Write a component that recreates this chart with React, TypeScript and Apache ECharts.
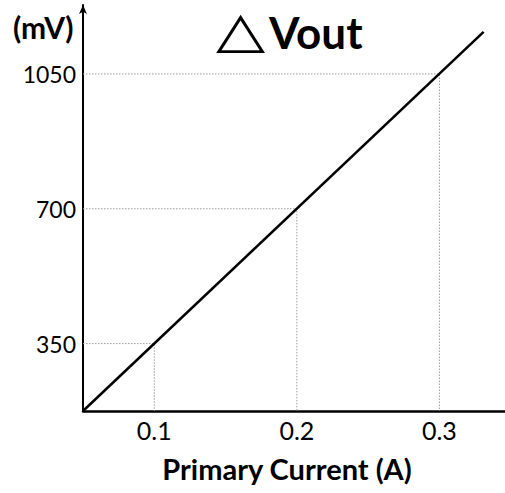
import React, { useEffect, useRef } from "react";
import * as echarts from "echarts";

const xTicks = [0.1, 0.2, 0.3];
const yTicks = [350, 700, 1050];
const lineX = [0.05, 0.331];
const lineY = [175, 1159];
const xRange = [0.05, 0.346];
const yRange = [175, 1229];

const FONT = "Lato, 'Open Sans', sans-serif";

export default function App() {
  const ref = useRef<HTMLDivElement>(null);
  useEffect(() => {
    if (!ref.current) return;
    const chart = echarts.init(ref.current, null, { renderer: "svg" });
    const guideSeries = xTicks.map((xv, i) => ({
      type: "line",
      data: [
        [xRange[0], yTicks[i]],
        [xv, yTicks[i]],
        [xv, yRange[0]],
      ],
      symbol: "none",
      silent: true,
      lineStyle: { color: "#9a9a9a", width: 1, type: [1.5, 1.5] },
      z: 1,
    }));
    chart.setOption({
      animation: false,
      backgroundColor: "#ffffff",
      grid: { left: 83, right: 0, top: 5, bottom: 82, outerBoundsMode: "none", containLabel: false },
      xAxis: {
        type: "value",
        min: xRange[0],
        max: xRange[1],
        name: "Primary Current (A)",
        nameLocation: "middle",
        nameGap: 43,
        nameTextStyle: {
          fontFamily: FONT,
          fontSize: 29,
          fontWeight: "bold",
          color: "#000",
          padding: [0, 14, 0, 0],
        },
        axisLine: { show: true, onZero: false, lineStyle: { color: "#000", width: 2.5 } },
        axisTick: { show: false },
        splitLine: { show: false },
        axisLabel: {
          customValues: xTicks,
          fontFamily: FONT,
          fontSize: 25,
          color: "#000",
          margin: 6,
          formatter: (v: number) => String(Math.round(v * 10) / 10),
        },
      },
      yAxis: {
        type: "value",
        min: yRange[0],
        max: yRange[1],
        axisLine: {
          show: true,
          onZero: false,
          symbol: ["none", "arrow"],
          symbolSize: [6, 9],
          lineStyle: { color: "#000", width: 2 },
        },
        axisTick: { show: false },
        splitLine: { show: false },
        axisLabel: {
          customValues: yTicks,
          fontFamily: FONT,
          fontSize: 23,
          color: "#000",
          margin: 7,
          formatter: (v: number) => String(Math.round(v)),
        },
      },
      graphic: [
        {
          type: "text",
          left: 13,
          top: 12,
          style: { text: "(mV)", fontFamily: FONT, fontSize: 30, fontWeight: "bold", fill: "#000" },
        },
        {
          type: "text",
          x: 216,
          y: 5,
          scaleY: 0.78,
          style: {
            text: "△",
            fontFamily: "'DejaVu Sans'",
            fontSize: 64,
            fill: "#000",
          },
        },
        {
          type: "text",
          x: 269,
          y: 10,
          style: {
            text: "Vout",
            fontFamily: FONT,
            fontSize: 44,
            fontWeight: "bold",
            fill: "#000",
          },
        },
      ],
      series: [
        ...guideSeries,
        {
          type: "line",
          data: lineX.map((x, i) => [x, lineY[i]]),
          symbol: "none",
          silent: true,
          lineStyle: { color: "#000", width: 2.5 },
          z: 3,
        },
      ],
    });
    return () => chart.dispose();
  }, []);
  return <div ref={ref} style={{ width: 505, height: 493, position: "absolute", left: 0, top: 0 }} />;
}
